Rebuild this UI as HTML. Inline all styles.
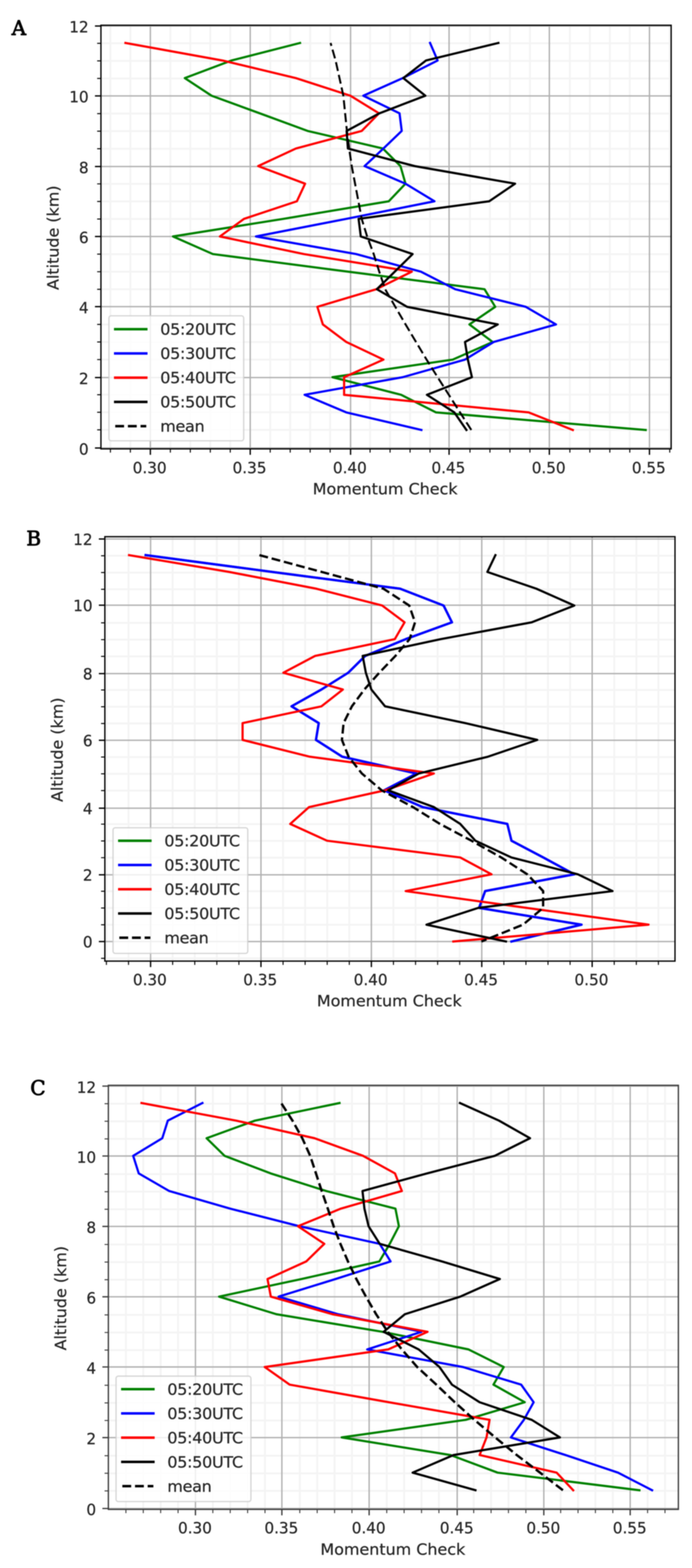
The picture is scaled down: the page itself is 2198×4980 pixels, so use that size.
<!DOCTYPE html>
<html lang="en">
<head>
<meta charset="utf-8">
<title>Momentum Check vs Altitude</title>
<style>
html,body{margin:0;padding:0;background:#fff;}
body{width:2198px;height:4980px;overflow:hidden;}
svg{display:block;filter:blur(1.7px);}
</style>
</head>
<body>
<svg width="2198" height="4980" viewBox="0 0 2198 4980" role="img" aria-label="Momentum Check versus Altitude, panels A, B and C">
<rect width="2198" height="4980" fill="#fff"/>
<g>
<path d="M350.7 80.2V1425.6M414.1 80.2V1425.6M541.1 80.2V1425.6M604.5 80.2V1425.6M668 80.2V1425.6M731.4 80.2V1425.6M858.3 80.2V1425.6M921.8 80.2V1425.6M985.2 80.2V1425.6M1048.7 80.2V1425.6M1175.5 80.2V1425.6M1239 80.2V1425.6M1302.5 80.2V1425.6M1365.9 80.2V1425.6M1492.8 80.2V1425.6M1556.2 80.2V1425.6M1619.7 80.2V1425.6M1683.2 80.2V1425.6M1810.1 80.2V1425.6M1873.5 80.2V1425.6M1937 80.2V1425.6M2000.4 80.2V1425.6M2127.3 80.2V1425.6M320.6 1365.2H2131.8M320.6 1309.4H2131.8M320.6 1253.6H2131.8M320.6 1142H2131.8M320.6 1086.2H2131.8M320.6 1030.4H2131.8M320.6 918.8H2131.8M320.6 863H2131.8M320.6 807.2H2131.8M320.6 695.6H2131.8M320.6 639.8H2131.8M320.6 584H2131.8M320.6 472.4H2131.8M320.6 416.6H2131.8M320.6 360.8H2131.8M320.6 249.2H2131.8M320.6 193.4H2131.8M320.6 137.6H2131.8" stroke="#b0b0b0" stroke-opacity="0.145" stroke-width="6.0" fill="none"/>
<path d="M477.6 80.2V1425.6M794.8 80.2V1425.6M1113.5 80.2V1425.6M1426.4 80.2V1425.6M1744.9 80.2V1425.6M2062.9 80.2V1425.6M320.6 1422.8H2131.8M320.6 1199.2H2131.8M320.6 973.9H2131.8M320.6 751.2H2131.8M320.6 528.8H2131.8M320.6 304.6H2131.8M320.6 82.7H2131.8" stroke="#b0b0b0" stroke-width="4.3" fill="none"/>
<g fill="none" stroke-width="7" stroke-linejoin="round" stroke-linecap="butt">
<path d="M953 136.4L735 192.2L587 248.1L672 304L825 359.9L977 415.8L1216 471.6L1272 527.5L1288 583.4L1235 639.2L900 695.1L549.5 751L676 806.9L1105 862.8L1539 918.6L1573 974.5L1491 1030.4L1565 1086.2L1438 1142.1L1056 1198L1274 1253.9L1385 1309.8L2051 1365.6" stroke="#008000" stroke-linecap="square"/>
<path d="M1366 136.4L1390 192.2L1279 248.1L1154 304L1269 359.9L1276 415.8L1218 471.6L1158 527.5L1288 583.4L1380 639.2L1100 695.1L813 751L1131 806.9L1337 862.8L1446 918.6L1670 974.5L1766 1030.4L1568 1086.2L1477 1142.1L1279 1198L967.5 1253.9L1100 1309.8L1338.5 1365.6" stroke="#0000ff" stroke-linecap="square"/>
<path d="M398.5 136.4L707 192.2L940 248.1L1113 304L1204 359.9L1149 415.8L940 471.6L820 527.5L969 583.4L943 639.2L775 695.1L698.5 751L965 806.9L1308 862.8L1195 918.6L1008 974.5L1025.5 1030.4L1100 1086.2L1218 1142.1L1093 1198L1093 1253.9L1679 1309.8L1819.5 1365.6" stroke="#ff0000" stroke-linecap="square"/>
<path d="M1583 136.4L1353 192.2L1281 248.1L1351 304L1205 359.9L1101 415.8L1105 471.6L1317 527.5L1636 583.4L1554 639.2L1139 695.1L1146 751L1310.5 806.9L1254 862.8L1197 918.6L1293 974.5L1581 1030.4L1477 1086.2L1486 1142.1L1499 1198L1356 1253.9L1443 1309.8L1481.5 1365.6" stroke="#000000" stroke-linecap="square"/>
<path d="M1497 1365.6L1461.1 1309.8L1425.6 1253.9L1390 1198L1354.9 1142.1L1321.4 1086.2L1288.2 1030.4L1255.6 974.5L1223.4 918.6L1204.6 862.8L1187 806.9L1166.1 751L1148.8 695.1L1138.4 639.2L1127.8 583.4L1117.2 527.5L1109 471.6L1101.9 415.8L1096.2 359.9L1090.6 304L1078.3 248.1L1066 192.2L1050 136.4" stroke="#000000" stroke-dasharray="28.76 12.44" stroke-width="6.3"/>
</g>
<path d="M477.6 1425.6v19M794.8 1425.6v19M1113.5 1425.6v19M1426.4 1425.6v19M1744.9 1425.6v19M2062.9 1425.6v19M320.6 1422.8h-19M320.6 1199.2h-19M320.6 973.9h-19M320.6 751.2h-19M320.6 528.8h-19M320.6 304.6h-19M320.6 82.7h-19" stroke="#000" stroke-width="4.2" fill="none"/>
<path d="M350.7 1425.6v12M414.1 1425.6v12M541.1 1425.6v12M604.5 1425.6v12M668 1425.6v12M731.4 1425.6v12M858.3 1425.6v12M921.8 1425.6v12M985.2 1425.6v12M1048.7 1425.6v12M1175.5 1425.6v12M1239 1425.6v12M1302.5 1425.6v12M1365.9 1425.6v12M1492.8 1425.6v12M1556.2 1425.6v12M1619.7 1425.6v12M1683.2 1425.6v12M1810.1 1425.6v12M1873.5 1425.6v12M1937 1425.6v12M2000.4 1425.6v12M2127.3 1425.6v12M320.6 1365.2h-12M320.6 1309.4h-12M320.6 1253.6h-12M320.6 1142h-12M320.6 1086.2h-12M320.6 1030.4h-12M320.6 918.8h-12M320.6 863h-12M320.6 807.2h-12M320.6 695.6h-12M320.6 639.8h-12M320.6 584h-12M320.6 472.4h-12M320.6 416.6h-12M320.6 360.8h-12M320.6 249.2h-12M320.6 193.4h-12M320.6 137.6h-12" stroke="#000" stroke-width="3.2" fill="none"/>
<rect x="320.6" y="80.2" width="1811.2" height="1345.4" fill="none" stroke="#000" stroke-width="4.2"/>
<g font-family='"DejaVu Sans", "Liberation Sans", sans-serif' font-size="50.6" fill="#262626" stroke="#262626" stroke-width="0.7">
<text transform="translate(475.4 1502.6) scale(0.955 1)" text-anchor="middle">0.30</text>
<text transform="translate(792.6 1502.6) scale(0.955 1)" text-anchor="middle">0.35</text>
<text transform="translate(1111.3 1502.6) scale(0.955 1)" text-anchor="middle">0.40</text>
<text transform="translate(1424.2 1502.6) scale(0.955 1)" text-anchor="middle">0.45</text>
<text transform="translate(1742.7 1502.6) scale(0.955 1)" text-anchor="middle">0.50</text>
<text transform="translate(2060.7 1502.6) scale(0.955 1)" text-anchor="middle">0.55</text>
<text transform="translate(281.6 1443.5) scale(0.955 1)" text-anchor="end">0</text>
<text transform="translate(281.6 1219.9) scale(0.955 1)" text-anchor="end">2</text>
<text transform="translate(281.6 994.6) scale(0.955 1)" text-anchor="end">4</text>
<text transform="translate(281.6 771.9) scale(0.955 1)" text-anchor="end">6</text>
<text transform="translate(281.6 549.5) scale(0.955 1)" text-anchor="end">8</text>
<text transform="translate(281.6 325.3) scale(0.955 1)" text-anchor="end">10</text>
<text transform="translate(281.6 103.4) scale(0.955 1)" text-anchor="end">12</text>
<text x="1223.3" y="1570.2" text-anchor="middle">Momentum Check</text>
<text transform="translate(186 755) rotate(-90)" text-anchor="middle">Altitude (km)</text>
</g>
<rect x="346" y="1003" width="428" height="397" rx="7" ry="7" fill="#fff" fill-opacity="0.8" stroke="#ccc" stroke-opacity="0.8" stroke-width="4.2"/>
<g font-family='"DejaVu Sans", "Liberation Sans", sans-serif' font-size="50.6" fill="#262626" stroke="#262626" stroke-width="0.7">
<path d="M366 1045.6h98.6" stroke="#008000" stroke-width="8" stroke-linecap="square" fill="none"/>
<text x="509" y="1063.3" letter-spacing="-0.8">05:20UTC</text>
<path d="M366 1122.6h98.6" stroke="#0000ff" stroke-width="8" stroke-linecap="square" fill="none"/>
<text x="509" y="1140.3" letter-spacing="-0.8">05:30UTC</text>
<path d="M366 1199.6h98.6" stroke="#ff0000" stroke-width="8" stroke-linecap="square" fill="none"/>
<text x="509" y="1217.3" letter-spacing="-0.8">05:40UTC</text>
<path d="M366 1276.6h98.6" stroke="#000000" stroke-width="8" stroke-linecap="square" fill="none"/>
<text x="509" y="1294.3" letter-spacing="-0.8">05:50UTC</text>
<path d="M366 1353.6h98.6" stroke="#000000" stroke-width="8" stroke-dasharray="28.1 12.1" fill="none"/>
<text x="509" y="1371.3" letter-spacing="-0.8">mean</text>
</g>
<text x="60" y="111" font-family='"DejaVu Serif", "Liberation Serif", serif' font-size="63.5" fill="#000" stroke="#000" stroke-width="2.4" stroke-linejoin="round" text-anchor="middle">A</text>
</g>
<g>
<path d="M338 1704.5V3052.5M408.2 1704.5V3052.5M548.4 1704.5V3052.5M618.6 1704.5V3052.5M688.7 1704.5V3052.5M758.8 1704.5V3052.5M899.1 1704.5V3052.5M969.2 1704.5V3052.5M1039.3 1704.5V3052.5M1109.5 1704.5V3052.5M1249.7 1704.5V3052.5M1319.9 1704.5V3052.5M1390 1704.5V3052.5M1460.1 1704.5V3052.5M1600.4 1704.5V3052.5M1670.5 1704.5V3052.5M1740.6 1704.5V3052.5M1810.8 1704.5V3052.5M1951 1704.5V3052.5M2021.2 1704.5V3052.5M2091.3 1704.5V3052.5M333 3043.7H2144M333 2937.1H2144M333 2883.8H2144M333 2830.6H2144M333 2724H2144M333 2670.8H2144M333 2617.5H2144M333 2510.9H2144M333 2457.7H2144M333 2404.4H2144M333 2297.8H2144M333 2244.6H2144M333 2191.3H2144M333 2084.7H2144M333 2031.5H2144M333 1978.2H2144M333 1871.6H2144M333 1818.4H2144M333 1765.1H2144" stroke="#b0b0b0" stroke-opacity="0.145" stroke-width="6.0" fill="none"/>
<path d="M478.3 1704.5V3052.5M828.9 1704.5V3052.5M1179.6 1704.5V3052.5M1530.2 1704.5V3052.5M1880.9 1704.5V3052.5M333 2990.4H2144M333 2778.4H2144M333 2566.8H2144M333 2351.2H2144M333 2139.4H2144M333 1922.2H2144M333 1711.9H2144" stroke="#b0b0b0" stroke-width="4.3" fill="none"/>
<g fill="none" stroke-width="7" stroke-linejoin="round" stroke-linecap="butt">
<path d="M462.7 1763.1L865 1816.5L1271 1869.8L1409 1923.2L1435.5 1976.5L1288.6 2029.9L1160 2083.2L1106 2136.6L1021 2189.9L926 2243.3L1012.4 2296.6L1003.6 2350L1087 2403.3L1323 2456.7L1220 2510L1343 2563.4L1611.4 2616.8L1624.6 2670.1L1725.7 2723.4L1824.2 2776.8L1541 2830.1L1521.7 2883.5L1847 2936.8L1624.6 2990.2" stroke="#008000" stroke-linecap="square"/>
<path d="M462.7 1763.1L865 1816.5L1271 1869.8L1409 1923.2L1435.5 1976.5L1288.6 2029.9L1160 2083.2L1106 2136.6L1021 2189.9L926 2243.3L1012.4 2296.6L1003.6 2350L1087 2403.3L1323 2456.7L1220 2510L1343 2563.4L1611.4 2616.8L1624.6 2670.1L1725.7 2723.4L1824.2 2776.8L1541 2830.1L1521.7 2883.5L1847 2936.8L1624.6 2990.2" stroke="#0000ff" stroke-linecap="square" stroke-width="7.6"/>
<path d="M410 1763.1L728 1816.5L1005 1869.8L1214 1923.2L1285 1976.5L1254 2029.9L1001 2083.2L900 2136.6L1089 2189.9L1021 2243.3L770.5 2296.6L770.5 2350L984 2403.3L1378 2456.7L1223.5 2510L981.6 2563.4L921.8 2616.8L1038.8 2670.1L1461.9 2723.4L1561.2 2776.8L1288.6 2830.1L1673 2883.5L2060 2936.8L1439.9 2990.2" stroke="#ff0000" stroke-linecap="square"/>
<path d="M1573.6 1763.1L1548 1816.5L1703.7 1869.8L1824.2 1923.2L1688.8 1976.5L1400 2029.9L1152 2083.2L1162 2136.6L1179.5 2189.9L1223 2243.3L1478 2296.6L1706.4 2350L1549.8 2403.3L1330 2456.7L1233 2510L1378.3 2563.4L1461.9 2616.8L1510 2670.1L1624.6 2723.4L1835.6 2776.8L1945.6 2830.1L1519 2883.5L1354.6 2936.8L1607 2990.2" stroke="#000000" stroke-linecap="square"/>
<path d="M824 1763.1L1022 1816.5L1218 1869.8L1299.8 1923.2L1318.3 1976.5L1301 2029.9L1256 2083.2L1204.8 2136.6L1157.3 2189.9L1117.7 2243.3L1091.3 2296.6L1086.1 2350L1107.2 2403.3L1149.5 2456.7L1212.3 2510L1311.9 2563.4L1397.4 2616.8L1497.5 2670.1L1592.2 2723.4L1674.8 2776.8L1725.2 2830.1L1725.1 2883.5L1661.2 2936.8L1529 2990.2" stroke="#000000" stroke-dasharray="28.10 12.10" stroke-width="7.4"/>
</g>
<path d="M478.3 3052.5v19M828.9 3052.5v19M1179.6 3052.5v19M1530.2 3052.5v19M1880.9 3052.5v19M333 2990.4h-19M333 2778.4h-19M333 2566.8h-19M333 2351.2h-19M333 2139.4h-19M333 1922.2h-19M333 1711.9h-19" stroke="#000" stroke-width="4.2" fill="none"/>
<path d="M338 3052.5v12M408.2 3052.5v12M548.4 3052.5v12M618.6 3052.5v12M688.7 3052.5v12M758.8 3052.5v12M899.1 3052.5v12M969.2 3052.5v12M1039.3 3052.5v12M1109.5 3052.5v12M1249.7 3052.5v12M1319.9 3052.5v12M1390 3052.5v12M1460.1 3052.5v12M1600.4 3052.5v12M1670.5 3052.5v12M1740.6 3052.5v12M1810.8 3052.5v12M1951 3052.5v12M2021.2 3052.5v12M2091.3 3052.5v12M333 3043.7h-12M333 2937.1h-12M333 2883.8h-12M333 2830.6h-12M333 2724h-12M333 2670.8h-12M333 2617.5h-12M333 2510.9h-12M333 2457.7h-12M333 2404.4h-12M333 2297.8h-12M333 2244.6h-12M333 2191.3h-12M333 2084.7h-12M333 2031.5h-12M333 1978.2h-12M333 1871.6h-12M333 1818.4h-12M333 1765.1h-12" stroke="#000" stroke-width="3.2" fill="none"/>
<rect x="333" y="1704.5" width="1811" height="1348" fill="none" stroke="#000" stroke-width="4.2"/>
<g font-family='"DejaVu Sans", "Liberation Sans", sans-serif' font-size="50.6" fill="#262626" stroke="#262626" stroke-width="0.7">
<text transform="translate(476 3128.5) scale(0.955 1)" text-anchor="middle">0.30</text>
<text transform="translate(826.6 3128.5) scale(0.955 1)" text-anchor="middle">0.35</text>
<text transform="translate(1177.3 3128.5) scale(0.955 1)" text-anchor="middle">0.40</text>
<text transform="translate(1528 3128.5) scale(0.955 1)" text-anchor="middle">0.45</text>
<text transform="translate(1878.6 3128.5) scale(0.955 1)" text-anchor="middle">0.50</text>
<text transform="translate(294 3009.2) scale(0.955 1)" text-anchor="end">0</text>
<text transform="translate(294 2797.2) scale(0.955 1)" text-anchor="end">2</text>
<text transform="translate(294 2585.6) scale(0.955 1)" text-anchor="end">4</text>
<text transform="translate(294 2370) scale(0.955 1)" text-anchor="end">6</text>
<text transform="translate(294 2158.2) scale(0.955 1)" text-anchor="end">8</text>
<text transform="translate(294 1941) scale(0.955 1)" text-anchor="end">10</text>
<text transform="translate(294 1730.7) scale(0.955 1)" text-anchor="end">12</text>
<text x="1236.5" y="3196.3" text-anchor="middle">Momentum Check</text>
<text transform="translate(199 2381.1) rotate(-90)" text-anchor="middle">Altitude (km)</text>
</g>
<rect x="359" y="2629" width="428" height="399" rx="7" ry="7" fill="#fff" fill-opacity="0.8" stroke="#ccc" stroke-opacity="0.8" stroke-width="4.2"/>
<g font-family='"DejaVu Sans", "Liberation Sans", sans-serif' font-size="50.6" fill="#262626" stroke="#262626" stroke-width="0.7">
<path d="M379 2670.2h98.6" stroke="#008000" stroke-width="8" stroke-linecap="square" fill="none"/>
<text x="522" y="2687.9" letter-spacing="-0.8">05:20UTC</text>
<path d="M379 2747.2h98.6" stroke="#0000ff" stroke-width="8" stroke-linecap="square" fill="none"/>
<text x="522" y="2764.9" letter-spacing="-0.8">05:30UTC</text>
<path d="M379 2824.2h98.6" stroke="#ff0000" stroke-width="8" stroke-linecap="square" fill="none"/>
<text x="522" y="2841.9" letter-spacing="-0.8">05:40UTC</text>
<path d="M379 2901.2h98.6" stroke="#000000" stroke-width="8" stroke-linecap="square" fill="none"/>
<text x="522" y="2918.9" letter-spacing="-0.8">05:50UTC</text>
<path d="M379 2978.2h98.6" stroke="#000000" stroke-width="8" stroke-dasharray="28.1 12.1" fill="none"/>
<text x="522" y="2995.9" letter-spacing="-0.8">mean</text>
</g>
<text x="107" y="1731.5" font-family='"DejaVu Serif", "Liberation Serif", serif' font-size="63.5" fill="#000" stroke="#000" stroke-width="2.4" stroke-linejoin="round" text-anchor="middle">B</text>
</g>
<g>
<path d="M399.9 3447V4793.8M455.1 3447V4793.8M510.3 3447V4793.8M565.6 3447V4793.8M676 3447V4793.8M731.3 3447V4793.8M786.5 3447V4793.8M841.7 3447V4793.8M952.2 3447V4793.8M1007.5 3447V4793.8M1062.7 3447V4793.8M1117.9 3447V4793.8M1228.4 3447V4793.8M1283.6 3447V4793.8M1338.9 3447V4793.8M1394.1 3447V4793.8M1504.6 3447V4793.8M1559.8 3447V4793.8M1615 3447V4793.8M1670.3 3447V4793.8M1780.8 3447V4793.8M1836 3447V4793.8M1891.2 3447V4793.8M1946.5 3447V4793.8M2056.9 3447V4793.8M2112.2 3447V4793.8M344.2 4735.1H2154.7M344.2 4679.2H2154.7M344.2 4623.3H2154.7M344.2 4511.5H2154.7M344.2 4455.6H2154.7M344.2 4399.7H2154.7M344.2 4287.9H2154.7M344.2 4232H2154.7M344.2 4176.1H2154.7M344.2 4064.3H2154.7M344.2 4008.4H2154.7M344.2 3952.5H2154.7M344.2 3840.7H2154.7M344.2 3784.8H2154.7M344.2 3728.9H2154.7M344.2 3617.1H2154.7M344.2 3561.2H2154.7M344.2 3505.3H2154.7" stroke="#b0b0b0" stroke-opacity="0.145" stroke-width="6.0" fill="none"/>
<path d="M620.8 3447V4793.8M895.3 3447V4793.8M1172.5 3447V4793.8M1452.2 3447V4793.8M1727.3 3447V4793.8M2001.7 3447V4793.8M344.2 4791H2154.7M344.2 4565.9H2154.7M344.2 4341.5H2154.7M344.2 4118.6H2154.7M344.2 3895.1H2154.7M344.2 3671.5H2154.7M344.2 3449.5H2154.7" stroke="#b0b0b0" stroke-width="4.3" fill="none"/>
<g fill="none" stroke-width="7" stroke-linejoin="round" stroke-linecap="butt">
<path d="M1078.4 3503.2L810 3559.1L656.2 3615L713.4 3670.9L860 3726.8L1036 3782.7L1256 3838.6L1267 3894.5L1238 3950.4L1205 4006.3L958 4062.2L695.8 4118.1L878 4174L1215 4229.9L1488.2 4285.8L1600 4341.7L1567.4 4397.6L1666.8 4453.5L1479.4 4509.4L1085.4 4565.3L1431 4621.2L1580.6 4677.1L2031 4733" stroke="#008000" stroke-linecap="square"/>
<path d="M643 3503.2L533 3559.1L515.5 3615L423 3670.9L440.7 3726.8L537.5 3782.7L731 3838.6L950.8 3894.5L1205.9 3950.4L1240.6 4006.3L1066 4062.2L884.9 4118.1L1074 4174L1338.7 4229.9L1166.3 4285.8L1470.6 4341.7L1655.3 4397.6L1695 4453.5L1664 4509.4L1622.8 4565.3L1796 4621.2L1963 4677.1L2071.3 4733" stroke="#0000ff" stroke-linecap="square"/>
<path d="M449.5 3503.2L750 3559.1L999 3615L1153 3670.9L1254.6 3726.8L1276.5 3782.7L1082.8 3838.6L946.4 3894.5L1030 3950.4L972.8 4006.3L849.7 4062.2L860.2 4118.1L1056 4174L1358 4229.9L1233 4285.8L840.9 4341.7L920 4397.6L1235 4453.5L1555 4509.4L1545.4 4565.3L1523.4 4621.2L1768 4677.1L1820.7 4733" stroke="#ff0000" stroke-linecap="square"/>
<path d="M1461 3503.2L1585 3559.1L1683.5 3615L1571.8 3670.9L1356 3726.8L1151.4 3782.7L1157.5 3838.6L1170.7 3894.5L1206 3950.4L1404 4006.3L1587.6 4062.2L1461.9 4118.1L1286 4174L1218.5 4229.9L1330 4285.8L1395.9 4341.7L1435.5 4397.6L1523.4 4453.5L1688.8 4509.4L1778.5 4565.3L1440.5 4621.2L1310.6 4677.1L1510.2 4733" stroke="#000000" stroke-linecap="square"/>
<path d="M1788 4733L1715.1 4677.1L1641.4 4621.2L1572.9 4565.3L1506.9 4509.4L1444.5 4453.5L1385.8 4397.6L1325.2 4341.7L1276.4 4285.8L1231.6 4229.9L1194.7 4174L1162.3 4118.1L1131.9 4062.2L1105.2 4006.3L1081.2 3950.4L1059.7 3894.5L1041.2 3838.6L1021.9 3782.7L1003.6 3726.8L985.3 3670.9L960.1 3615L929 3559.1L893 3503.2" stroke="#000000" stroke-dasharray="28.10 12.10" stroke-width="7.6"/>
</g>
<path d="M620.8 4793.8v19M895.3 4793.8v19M1172.5 4793.8v19M1452.2 4793.8v19M1727.3 4793.8v19M2001.7 4793.8v19M344.2 4791h-19M344.2 4565.9h-19M344.2 4341.5h-19M344.2 4118.6h-19M344.2 3895.1h-19M344.2 3671.5h-19M344.2 3449.5h-19" stroke="#3c3c3c" stroke-width="4.2" fill="none"/>
<path d="M399.9 4793.8v12M455.1 4793.8v12M510.3 4793.8v12M565.6 4793.8v12M676 4793.8v12M731.3 4793.8v12M786.5 4793.8v12M841.7 4793.8v12M952.2 4793.8v12M1007.5 4793.8v12M1062.7 4793.8v12M1117.9 4793.8v12M1228.4 4793.8v12M1283.6 4793.8v12M1338.9 4793.8v12M1394.1 4793.8v12M1504.6 4793.8v12M1559.8 4793.8v12M1615 4793.8v12M1670.3 4793.8v12M1780.8 4793.8v12M1836 4793.8v12M1891.2 4793.8v12M1946.5 4793.8v12M2056.9 4793.8v12M2112.2 4793.8v12M344.2 4735.1h-12M344.2 4679.2h-12M344.2 4623.3h-12M344.2 4511.5h-12M344.2 4455.6h-12M344.2 4399.7h-12M344.2 4287.9h-12M344.2 4232h-12M344.2 4176.1h-12M344.2 4064.3h-12M344.2 4008.4h-12M344.2 3952.5h-12M344.2 3840.7h-12M344.2 3784.8h-12M344.2 3728.9h-12M344.2 3617.1h-12M344.2 3561.2h-12M344.2 3505.3h-12" stroke="#3c3c3c" stroke-width="3.2" fill="none"/>
<rect x="344.2" y="3447" width="1810.5" height="1346.8" fill="none" stroke="#3c3c3c" stroke-width="4.2"/>
<g font-family='"DejaVu Sans", "Liberation Sans", sans-serif' font-size="50.6" fill="#262626" stroke="#262626" stroke-width="0.7">
<text transform="translate(619.3 4870.3) scale(0.955 1)" text-anchor="middle">0.30</text>
<text transform="translate(893.8 4870.3) scale(0.955 1)" text-anchor="middle">0.35</text>
<text transform="translate(1171 4870.3) scale(0.955 1)" text-anchor="middle">0.40</text>
<text transform="translate(1450.7 4870.3) scale(0.955 1)" text-anchor="middle">0.45</text>
<text transform="translate(1725.8 4870.3) scale(0.955 1)" text-anchor="middle">0.50</text>
<text transform="translate(2000.2 4870.3) scale(0.955 1)" text-anchor="middle">0.55</text>
<text transform="translate(305.2 4812.2) scale(0.955 1)" text-anchor="end">0</text>
<text transform="translate(305.2 4587.1) scale(0.955 1)" text-anchor="end">2</text>
<text transform="translate(305.2 4362.7) scale(0.955 1)" text-anchor="end">4</text>
<text transform="translate(305.2 4139.8) scale(0.955 1)" text-anchor="end">6</text>
<text transform="translate(305.2 3916.3) scale(0.955 1)" text-anchor="end">8</text>
<text transform="translate(305.2 3692.7) scale(0.955 1)" text-anchor="end">10</text>
<text transform="translate(305.2 3470.7) scale(0.955 1)" text-anchor="end">12</text>
<text x="1247.8" y="4938" text-anchor="middle">Momentum Check</text>
<text transform="translate(209.8 4123.2) rotate(-90)" text-anchor="middle">Altitude (km)</text>
</g>
<rect x="368.6" y="4370.7" width="428.4" height="398.3" rx="7" ry="7" fill="#fff" fill-opacity="0.8" stroke="#ccc" stroke-opacity="0.8" stroke-width="4.2"/>
<g font-family='"DejaVu Sans", "Liberation Sans", sans-serif' font-size="50.6" fill="#262626" stroke="#262626" stroke-width="0.7">
<path d="M388.6 4412h98.6" stroke="#008000" stroke-width="8" stroke-linecap="square" fill="none"/>
<text x="531.6" y="4429.7" letter-spacing="-0.8">05:20UTC</text>
<path d="M388.6 4489h98.6" stroke="#0000ff" stroke-width="8" stroke-linecap="square" fill="none"/>
<text x="531.6" y="4506.7" letter-spacing="-0.8">05:30UTC</text>
<path d="M388.6 4566h98.6" stroke="#ff0000" stroke-width="8" stroke-linecap="square" fill="none"/>
<text x="531.6" y="4583.7" letter-spacing="-0.8">05:40UTC</text>
<path d="M388.6 4643h98.6" stroke="#000000" stroke-width="8" stroke-linecap="square" fill="none"/>
<text x="531.6" y="4660.7" letter-spacing="-0.8">05:50UTC</text>
<path d="M388.6 4720h98.6" stroke="#000000" stroke-width="8" stroke-dasharray="28.1 12.1" fill="none"/>
<text x="531.6" y="4737.7" letter-spacing="-0.8">mean</text>
</g>
<text x="120.5" y="3477.5" font-family='"DejaVu Serif", "Liberation Serif", serif' font-size="63.5" fill="#000" stroke="#000" stroke-width="2.4" stroke-linejoin="round" text-anchor="middle">C</text>
</g>
</svg>
</body>
</html>
